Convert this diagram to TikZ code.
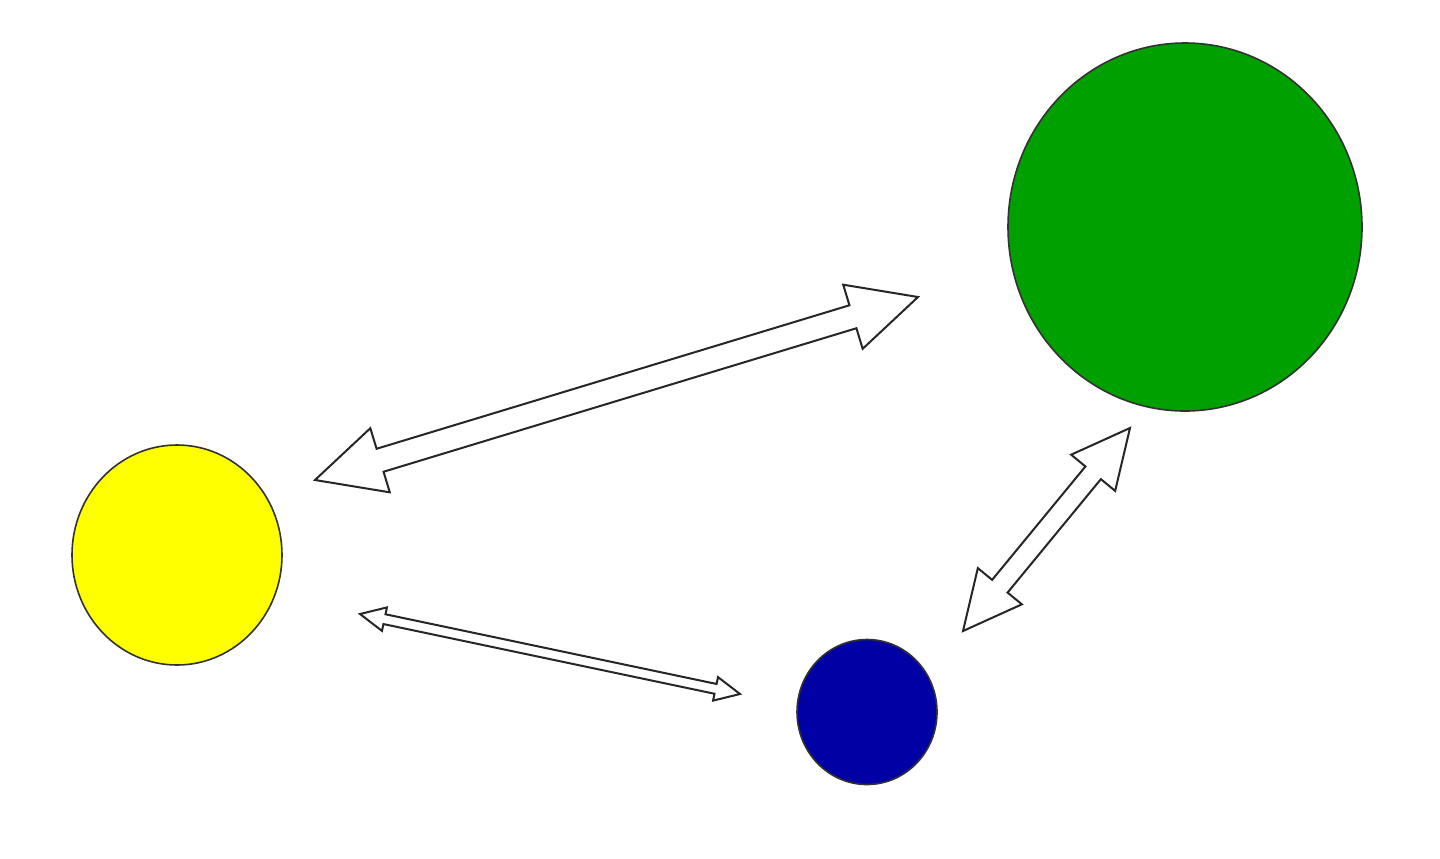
\documentclass[tikz,border=0pt]{standalone}
\usetikzlibrary{calc,shapes.geometric}
\definecolor{ballyellow}{RGB}{255,255,0}
\definecolor{ballgreen}{RGB}{0,160,0}
\definecolor{ballblue}{RGB}{0,0,165}
\definecolor{edgegray}{RGB}{50,50,50}
\tikzset{
  ball/.style={ellipse, draw=edgegray, line width=0.8pt, inner sep=0pt},
  blockarrow/.style={draw=black!85, fill=white, line width=1pt, line join=miter}
}
% #1,#2 tip coordinates; #3 head length; #4 head half-width; #5 shaft half-width
\newcommand{\dblblockarrow}[5]{%
  \draw[blockarrow] (#1)
    -- ($(#1)!#3!(#2)!#4!90:(#2)$)
    -- ($(#1)!#3!(#2)!#5!90:(#2)$)
    -- ($(#2)!#3!(#1)!#5!-90:(#1)$)
    -- ($(#2)!#3!(#1)!#4!-90:(#1)$)
    -- (#2)
    -- ($(#2)!#3!(#1)!#4!90:(#1)$)
    -- ($(#2)!#3!(#1)!#5!90:(#1)$)
    -- ($(#1)!#3!(#2)!#5!-90:(#2)$)
    -- ($(#1)!#3!(#2)!#4!-90:(#2)$)
    -- cycle;}
\begin{document}
\begin{tikzpicture}[x=0.5pt,y=-0.5pt]
\fill[white] (0,0) rectangle (1440,858);
\useasboundingbox (0,0) rectangle (1440,858);
\node[ball, fill=ballyellow, minimum width=105pt, minimum height=110pt] (yellow) at (177,555) {};
\node[ball, fill=ballgreen, minimum width=177pt, minimum height=184pt] (green) at (1185,227) {};
\node[ball, fill=ballblue, minimum width=70pt, minimum height=72.5pt] (blue) at (867,712) {};
% arrow tips
\coordinate (a1s) at (315,480);
\coordinate (a1e) at (918,297);
\coordinate (a2s) at (360,614);
\coordinate (a2e) at (740,694);
\coordinate (a3s) at (963,631);
\coordinate (a3e) at (1130,428);
\dblblockarrow{a1s}{a1e}{34pt}{16.75pt}{6pt}
\dblblockarrow{a2s}{a2e}{12.5pt}{6pt}{2.5pt}
\dblblockarrow{a3s}{a3e}{29pt}{14.25pt}{5pt}
\end{tikzpicture}
\end{document}
